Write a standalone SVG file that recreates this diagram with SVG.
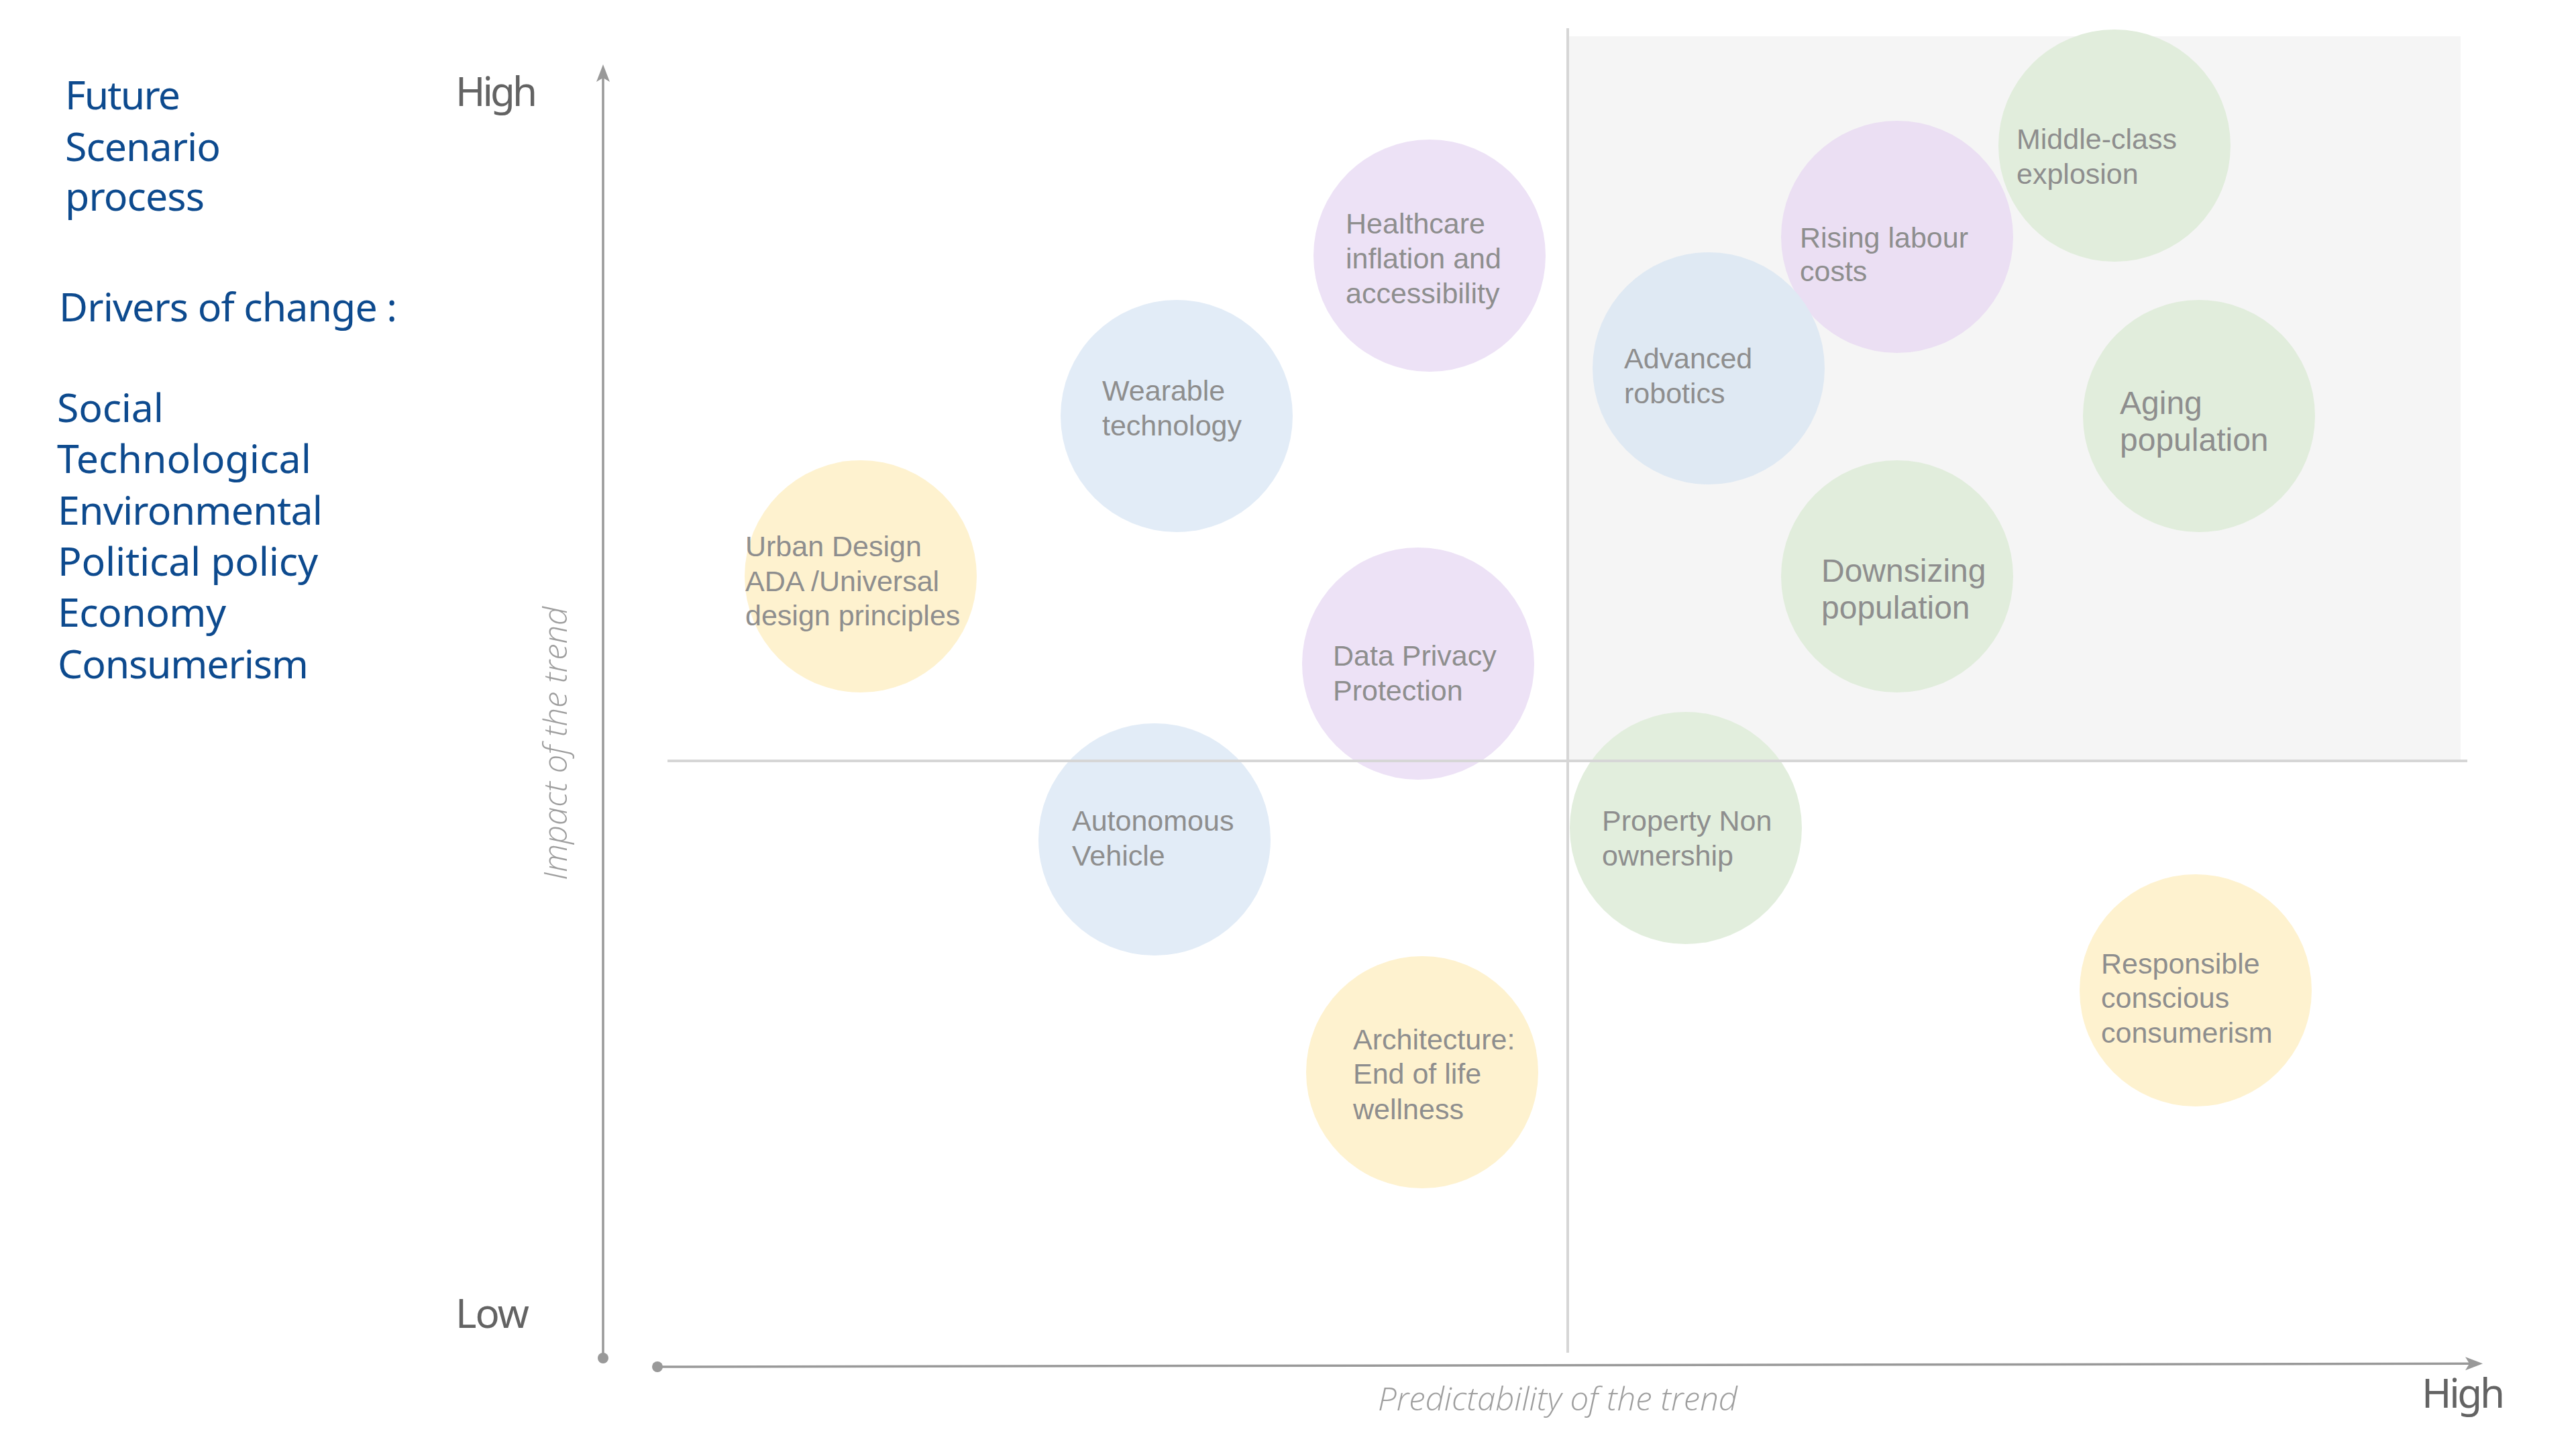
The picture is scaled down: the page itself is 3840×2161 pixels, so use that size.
<svg xmlns="http://www.w3.org/2000/svg" width="3840" height="2161" viewBox="0 0 3840 2161">
  <style>
    .side { font-family: "Noto Sans", "Open Sans", "DejaVu Sans", sans-serif; font-size: 59px; fill: #0d4a8e; }
    .axlab { font-family: "Noto Sans", "Open Sans", "DejaVu Sans", sans-serif; font-size: 60px; fill: #636363; }
    .axtitle { font-family: "Open Sans", "Noto Sans", sans-serif; font-size: 48px; font-style: italic; font-weight: 300; fill: #9e9e9e; }
    .lbl { font-family: "Liberation Sans", Arial, sans-serif; font-size: 43px; fill: #8e8e8e; }
    .lbl.big { font-size: 48px; }
    .yellow { fill: #fef2cf; }
    .blue { fill: #e2ecf7; }
    .purple { fill: #ede2f6; }
    .green { fill: #e2eedd; }
    .axis { stroke: #999999; stroke-width: 3.5; fill: none; }
    .quad { stroke: #d6d6d6; stroke-width: 4; fill: none; }
  </style>
  <defs>
    <marker id="arrow" markerUnits="userSpaceOnUse" markerWidth="30" markerHeight="24" refX="12" refY="10" orient="auto" overflow="visible">
      <path d="M0,0 L26,10 L0,20 L6,10 Z" fill="#999999"/>
    </marker>
  </defs>

  <rect x="0" y="0" width="3840" height="2161" fill="#ffffff"/>

  <!-- upper-right quadrant background -->
  <rect id="quadrant-bg" x="2337" y="54" width="1331" height="1080" fill="#f5f5f5"/>

  <!-- left side titles -->
  <g id="title">
    <text class="side" x="97" y="163" textLength="172" lengthAdjust="spacing">Future</text>
    <text class="side" x="97" y="240" textLength="232" lengthAdjust="spacing">Scenario</text>
    <text class="side" x="97" y="314" textLength="208" lengthAdjust="spacing">process</text>
  </g>
  <g id="drivers">
    <text class="side" x="88" y="479" textLength="504" lengthAdjust="spacing">Drivers of change :</text>
    <text class="side" x="85" y="629" textLength="159" lengthAdjust="spacing">Social</text>
    <text class="side" x="85" y="705" textLength="379" lengthAdjust="spacing">Technological</text>
    <text class="side" x="86" y="782" textLength="395" lengthAdjust="spacing">Environmental</text>
    <text class="side" x="86" y="858" textLength="388" lengthAdjust="spacing">Political policy</text>
    <text class="side" x="86" y="934" textLength="251" lengthAdjust="spacing">Economy</text>
    <text class="side" x="86" y="1011" textLength="374" lengthAdjust="spacing">Consumerism</text>
  </g>

  <!-- nodes -->
  <g id="node-urban-design">
    <circle class="yellow" cx="1283" cy="859" r="173"/>
    <text class="lbl" x="1111" y="829">Urban Design</text>
    <text class="lbl" x="1111" y="881">ADA /Universal</text>
    <text class="lbl" x="1111" y="932">design principles</text>
  </g>
  <g id="node-wearable">
    <circle class="blue" cx="1754" cy="620" r="173"/>
    <text class="lbl" x="1643" y="597">Wearable</text>
    <text class="lbl" x="1643" y="649">technology</text>
  </g>
  <g id="node-healthcare">
    <circle class="purple" cx="2131" cy="381" r="173"/>
    <text class="lbl" x="2006" y="348">Healthcare</text>
    <text class="lbl" x="2006" y="400">inflation and</text>
    <text class="lbl" x="2006" y="452">accessibility</text>
  </g>
  <g id="node-data-privacy">
    <circle class="purple" cx="2114" cy="989" r="173"/>
    <text class="lbl" x="1987" y="992">Data Privacy</text>
    <text class="lbl" x="1987" y="1044">Protection</text>
  </g>
  <g id="node-autonomous">
    <circle class="blue" cx="1721" cy="1251" r="173"/>
    <text class="lbl" x="1598" y="1238">Autonomous</text>
    <text class="lbl" x="1598" y="1290">Vehicle</text>
  </g>
  <g id="node-architecture">
    <circle class="yellow" cx="2120" cy="1598" r="173"/>
    <text class="lbl" x="2017" y="1564">Architecture:</text>
    <text class="lbl" x="2017" y="1615">End of life</text>
    <text class="lbl" x="2017" y="1668">wellness</text>
  </g>
  <g id="node-property">
    <circle class="green" cx="2513" cy="1234" r="173"/>
    <text class="lbl" x="2388" y="1238">Property Non</text>
    <text class="lbl" x="2388" y="1290">ownership</text>
  </g>
  <g id="node-rising-labour">
    <circle class="purple" cx="2828" cy="353" r="173" style="fill:#ebdff3"/>
    <text class="lbl" x="2683" y="369">Rising labour</text>
    <text class="lbl" x="2683" y="419">costs</text>
  </g>
  <g id="node-advanced-robotics">
    <circle class="blue" cx="2547" cy="549" r="173" style="fill:#dfe9f3"/>
    <text class="lbl" x="2421" y="549">Advanced</text>
    <text class="lbl" x="2421" y="601">robotics</text>
  </g>
  <g id="node-middle-class">
    <circle class="green" cx="3152" cy="217" r="173" style="fill:#e1eddc"/>
    <text class="lbl" x="3006" y="222">Middle-class</text>
    <text class="lbl" x="3006" y="274">explosion</text>
  </g>
  <g id="node-aging">
    <circle class="green" cx="3278" cy="620" r="173" style="fill:#e1eddc"/>
    <text class="lbl big" x="3160" y="617">Aging</text>
    <text class="lbl big" x="3160" y="672">population</text>
  </g>
  <g id="node-downsizing">
    <circle class="green" cx="2828" cy="859" r="173" style="fill:#e1eddc"/>
    <text class="lbl big" x="2715" y="867">Downsizing</text>
    <text class="lbl big" x="2715" y="922">population</text>
  </g>
  <g id="node-responsible">
    <circle class="yellow" cx="3273" cy="1476" r="173"/>
    <text class="lbl" x="3132" y="1451">Responsible</text>
    <text class="lbl" x="3132" y="1502">conscious</text>
    <text class="lbl" x="3132" y="1554">consumerism</text>
  </g>

  <!-- quadrant divider lines and axes -->
  <g id="connectors">
    <line class="quad" x1="2337" y1="42" x2="2337" y2="2016"/>
    <line class="quad" x1="995" y1="1134" x2="3678" y2="1134"/>
    <line class="axis" x1="899" y1="2024" x2="899" y2="110" marker-end="url(#arrow)"/>
    <line class="axis" x1="980" y1="2037" x2="3687" y2="2032.3" marker-end="url(#arrow)"/>
    <circle cx="899" cy="2024" r="8" fill="#999999"/>
    <circle cx="980" cy="2037" r="8" fill="#999999"/>
  </g>

  <!-- axis labels -->
  <g id="axis-labels">
    <text class="axlab" x="679" y="158" textLength="122" lengthAdjust="spacing">High</text>
    <text class="axlab" x="679" y="1979" textLength="110" lengthAdjust="spacing">Low</text>
    <text class="axlab" x="3610" y="2098" textLength="124" lengthAdjust="spacing">High</text>
    <text class="axtitle" x="2322" y="2102" text-anchor="middle" textLength="536" lengthAdjust="spacingAndGlyphs">Predictability of the trend</text>
    <text class="axtitle" transform="translate(845,1108) rotate(-90)" x="0" y="0" text-anchor="middle" textLength="408" lengthAdjust="spacingAndGlyphs">Impact of the trend</text>
  </g>
</svg>
